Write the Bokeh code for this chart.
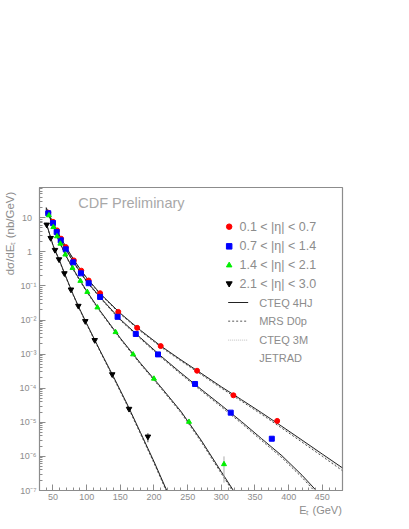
from bokeh.plotting import figure
from bokeh.models import FixedTicker, CustomJSTickFormatter, Label, Range1d
from bokeh.embed import file_html
from bokeh.resources import INLINE

# ---------------- data ----------------
# measured points, d sigma / dE_T in nb/GeV
et_r = [43, 50, 56, 62, 69, 81, 92, 103, 120, 147, 175, 210, 264, 318, 383]
xs_r = [14.0, 7.6, 4.25, 2.43, 1.38, 0.56, 0.28, 0.144, 0.061, 0.0173, 0.0059, 0.00172, 3.25e-4, 6.2e-5, 1.1e-5]
et_b = [43, 50, 55.5, 61.5, 69, 80, 91.5, 103, 120, 146, 173, 206, 261, 314, 375]
xs_b = [13.5, 6.95, 3.79, 2.17, 1.18, 0.49, 0.234, 0.12, 0.0475, 0.0124, 0.0039, 9.8e-4, 1.33e-4, 1.92e-5, 3.3e-6]
et_g = [44, 50.6, 56, 61, 68.4, 79, 90.7, 101, 116, 143, 169, 200, 252, 304]
xs_g = [11.7, 5.3, 2.84, 1.73, 0.83, 0.335, 0.14, 0.0665, 0.0233, 0.0044, 9.8e-4, 1.9e-4, 1.03e-5, 5.9e-7]
et_k = [40.7, 46.6, 53, 59, 67, 76.7, 87.7, 98, 112, 138, 163, 191]
xs_k = [6.24, 2.53, 1.13, 0.60, 0.234, 0.078, 0.0259, 0.00925, 0.00257, 2.55e-4, 2.47e-5, 3.8e-6]

# error bars shown on the last green and black points
err_g_et, err_g_lo, err_g_hi = [304], [1.7e-7], [1.0e-6]
err_k_et, err_k_lo, err_k_hi = [191], [2.6e-6], [4.8e-6]

# theory curves (CTEQ 4HJ / MRS D0p / CTEQ 3M)
th_et_r = [40, 50, 60, 70, 80, 90, 100, 120, 150, 180, 210, 240, 270, 300, 330, 360, 390, 420, 450, 480]
cteq4hj_r = [18.6, 7.2, 2.95, 1.32, 0.63, 0.32, 0.174, 0.060, 0.0158, 5.0e-3, 1.74e-3, 6.8e-4, 2.75e-4, 1.1e-4, 4.6e-5, 1.9e-5, 7.6e-6, 3.0e-6, 1.17e-6, 4.6e-7]
mrsd0p_r = [17.8, 6.9, 2.83, 1.26, 0.60, 0.305, 0.165, 0.057, 0.0149, 4.7e-3, 1.62e-3, 6.3e-4, 2.53e-4, 1.0e-4, 4.15e-5, 1.7e-5, 6.7e-6, 2.6e-6, 1.0e-6, 3.8e-7]
cteq3m_r = [18.3, 7.05, 2.9, 1.29, 0.615, 0.312, 0.169, 0.058, 0.0153, 4.85e-3, 1.68e-3, 6.5e-4, 2.62e-4, 1.04e-4, 4.35e-5, 1.78e-5, 7.1e-6, 2.8e-6, 1.08e-6, 4.2e-7]

th_et_b = [40, 50, 60, 70, 80, 90, 100, 120, 150, 180, 210, 240, 270, 300, 330, 360, 390, 420, 441]
cteq4hj_b = [17.8, 6.76, 2.51, 1.12, 0.525, 0.263, 0.138, 0.0468, 0.01047, 3.02e-3, 8.9e-4, 2.82e-4, 9.3e-5, 3.16e-5, 1.05e-5, 3.3e-6, 1.05e-6, 2.8e-7, 1.0e-7]
mrsd0p_b = [17.0, 6.47, 2.4, 1.07, 0.5, 0.25, 0.131, 0.0443, 9.8e-3, 2.8e-3, 8.2e-4, 2.57e-4, 8.4e-5, 2.83e-5, 9.3e-6, 2.9e-6, 9.1e-7, 2.4e-7, 8.4e-8]
cteq3m_b = [17.4, 6.6, 2.46, 1.1, 0.512, 0.257, 0.134, 0.0455, 0.0101, 2.9e-3, 8.5e-4, 2.68e-4, 8.8e-5, 2.98e-5, 9.8e-6, 3.08e-6, 9.7e-7, 2.6e-7, 9.2e-8]

th_et_g = [40, 50, 60, 70, 80, 90, 100, 120, 150, 180, 210, 240, 270, 300, 318]
cteq4hj_g = [20.0, 5.75, 1.91, 0.724, 0.316, 0.148, 0.0708, 0.0186, 2.95e-3, 5.4e-4, 1.1e-4, 2.1e-5, 3.0e-6, 3.55e-7, 1.0e-7]
mrsd0p_g = [19.2, 5.5, 1.82, 0.69, 0.30, 0.14, 0.0668, 0.0175, 2.75e-3, 5.0e-4, 1.01e-4, 1.92e-5, 2.7e-6, 3.15e-7, 8.8e-8]
cteq3m_g = [19.6, 5.62, 1.86, 0.705, 0.307, 0.144, 0.0688, 0.018, 2.85e-3, 5.2e-4, 1.05e-4, 2.0e-5, 2.85e-6, 3.35e-7, 9.4e-8]

th_et_k = [40, 50, 60, 70, 80, 90, 100, 120, 140, 160, 180, 200, 219]
cteq4hj_k = [7.08, 1.585, 0.537, 0.17, 0.0562, 0.0204, 7.9e-3, 1.26e-3, 2.14e-4, 3.47e-5, 5.0e-6, 7.1e-7, 1.0e-7]
mrsd0p_k = [6.8, 1.52, 0.514, 0.162, 0.0533, 0.0193, 7.45e-3, 1.18e-3, 1.99e-4, 3.2e-5, 4.55e-6, 6.4e-7, 9.0e-8]
cteq3m_k = [6.95, 1.55, 0.525, 0.166, 0.0548, 0.0198, 7.7e-3, 1.22e-3, 2.06e-4, 3.33e-5, 4.8e-6, 6.75e-7, 9.5e-8]

x_ticks = [50, 100, 150, 200, 250, 300, 350, 400, 450]
y_ticks = [1e-7, 1e-6, 1e-5, 1e-4, 1e-3, 1e-2, 1e-1, 1, 10]

legend_eta = ["0.1 < |\u03b7| < 0.7", "0.7 < |\u03b7| < 1.4", "1.4 < |\u03b7| < 2.1", "2.1 < |\u03b7| < 3.0"]
legend_th = ["CTEQ 4HJ", "MRS D0p", "CTEQ 3M", "JETRAD"]
x_title = "E\u209c (GeV)"
y_title = "d\u03c3/dE\u209c (nb/GeV)"

# ---------------- figure ----------------
FONT = "Liberation Sans"
GREY = "#8c8c8c"
EMSP = "\u2003"  # pads the end-aligned axis titles so the text ends at the axis end

p = figure(frame_width=303, frame_height=303, x_range=Range1d(30, 480), y_range=Range1d(1e-7, 76.9),
           y_axis_type="log", output_backend="svg", toolbar_location=None,
           min_border_left=38, min_border_right=60, min_border_top=187, min_border_bottom=28)
p.xgrid.visible = False
p.ygrid.visible = False
p.outline_line_color = GREY
p.outline_line_width = 1.2
p.background_fill_color = "white"
p.border_fill_color = "white"

minor_x = [v for v in range(30, 481, 10)]
p.xaxis.ticker = FixedTicker(ticks=x_ticks, minor_ticks=minor_x)
minor_y = [m * 10.0 ** e for e in range(-7, 2) for m in range(2, 10)]
p.yaxis.ticker = FixedTicker(ticks=y_ticks, minor_ticks=minor_y)
p.yaxis.formatter = CustomJSTickFormatter(code="""
const e = Math.round(Math.log10(tick));
if (e == 0) return "1\u2002";
if (e == 1) return "10\u2002";
const sup = {"-":"\u207b","0":"\u2070","1":"\u00b9","2":"\u00b2","3":"\u00b3","4":"\u2074","5":"\u2075","6":"\u2076","7":"\u2077","8":"\u2078","9":"\u2079"};
return "10" + String(e).split("").map(c => sup[c]).join("");
""")
for ax in (p.xaxis[0], p.yaxis[0]):
    ax.axis_line_color = GREY
    ax.major_tick_line_color = GREY
    ax.minor_tick_line_color = GREY
    ax.major_tick_in = 6
    ax.major_tick_out = 0
    ax.minor_tick_in = 3
    ax.minor_tick_out = 0
    ax.major_label_text_color = GREY
    ax.major_label_text_font = FONT
    ax.major_label_text_font_size = "9px"
    ax.major_label_standoff = 3
    ax.axis_label_text_font = FONT
    ax.axis_label_text_font_style = "normal"
    ax.axis_label_text_color = GREY
    ax.axis_label_standoff = 1
    try:
        ax.axis_label_align = "end"
    except Exception:
        pass

p.xaxis.axis_label = x_title + EMSP * 4
p.xaxis.axis_label_text_font_size = "11px"
p.yaxis.axis_label = y_title + EMSP * 8
p.yaxis.axis_label_text_font_size = "11.5px"

# theory curves
for et, a, b, c in [(th_et_r, cteq4hj_r, mrsd0p_r, cteq3m_r),
                    (th_et_b, cteq4hj_b, mrsd0p_b, cteq3m_b),
                    (th_et_g, cteq4hj_g, mrsd0p_g, cteq3m_g),
                    (th_et_k, cteq4hj_k, mrsd0p_k, cteq3m_k)]:
    p.line(et, c, line_color="#b0b0b0", line_width=0.8, line_dash="1 1")
    p.line(et, b, line_color="#555555", line_width=1, line_dash="2 2")
    p.line(et, a, line_color="#222222", line_width=1)

# error bars
p.segment(err_g_et, err_g_lo, err_g_et, err_g_hi, line_color="#aaaaaa", line_width=1)
p.segment(err_k_et, err_k_lo, err_k_et, err_k_hi, line_color="#444444", line_width=1)

# data points
p.scatter(et_r, xs_r, marker="circle", size=5, fill_color="#ff0000", line_color="#ff0000")
p.scatter(et_b, xs_b, marker="square", size=5, fill_color="#0000ff", line_color="#0000ff")
p.scatter(et_g, xs_g, marker="triangle", size=5, fill_color="#00ee00", line_color="#00ee00")
p.scatter(et_k, xs_k, marker="inverted_triangle", size=5.5, fill_color="#000000", line_color="#000000")

# legend (drawn manually inside the frame)
rows = [10 ** 0.737, 10 ** 0.160, 10 ** -0.396, 10 ** -0.931,
        10 ** -1.487, 10 ** -2.034, 10 ** -2.590, 10 ** -3.125]
mx, tx = 311.7, 327.0
p.scatter([mx], [rows[0]], marker="circle", size=5.5, fill_color="#ff0000", line_color="#ff0000")
p.scatter([mx], [rows[1]], marker="square", size=5.5, fill_color="#0000ff", line_color="#0000ff")
p.scatter([mx], [rows[2]], marker="triangle", size=5.5, fill_color="#00ee00", line_color="#00ee00")
p.scatter([mx], [rows[3]], marker="inverted_triangle", size=6, fill_color="#000000", line_color="#000000")
for i, t in enumerate(legend_eta):
    p.add_layout(Label(x=tx, y=rows[i], text=t, text_font=FONT, text_font_size="12.5px",
                       text_color=GREY, text_baseline="middle", text_align="left"))
lx0, lx1, ltx = 310.2, 339.9, 356.3
p.line([lx0, lx1], [rows[4], rows[4]], line_color="#222222", line_width=1)
p.line([lx0, lx1], [rows[5], rows[5]], line_color="#555555", line_width=1, line_dash="2 2")
p.line([lx0, lx1], [rows[6], rows[6]], line_color="#b0b0b0", line_width=0.8, line_dash="1 1")
for i, t in enumerate(legend_th):
    p.add_layout(Label(x=ltx, y=rows[4 + i], text=t, text_font=FONT, text_font_size="11px",
                       text_color=GREY, text_baseline="middle", text_align="left"))

# title inside the frame
p.add_layout(Label(x=87.5, y=27.5, text="CDF Preliminary", text_font=FONT, text_font_size="14.5px",
                   text_color="#a8a8a8", text_baseline="middle", text_align="left"))

open("out.html", "w").write(file_html(p, INLINE))
